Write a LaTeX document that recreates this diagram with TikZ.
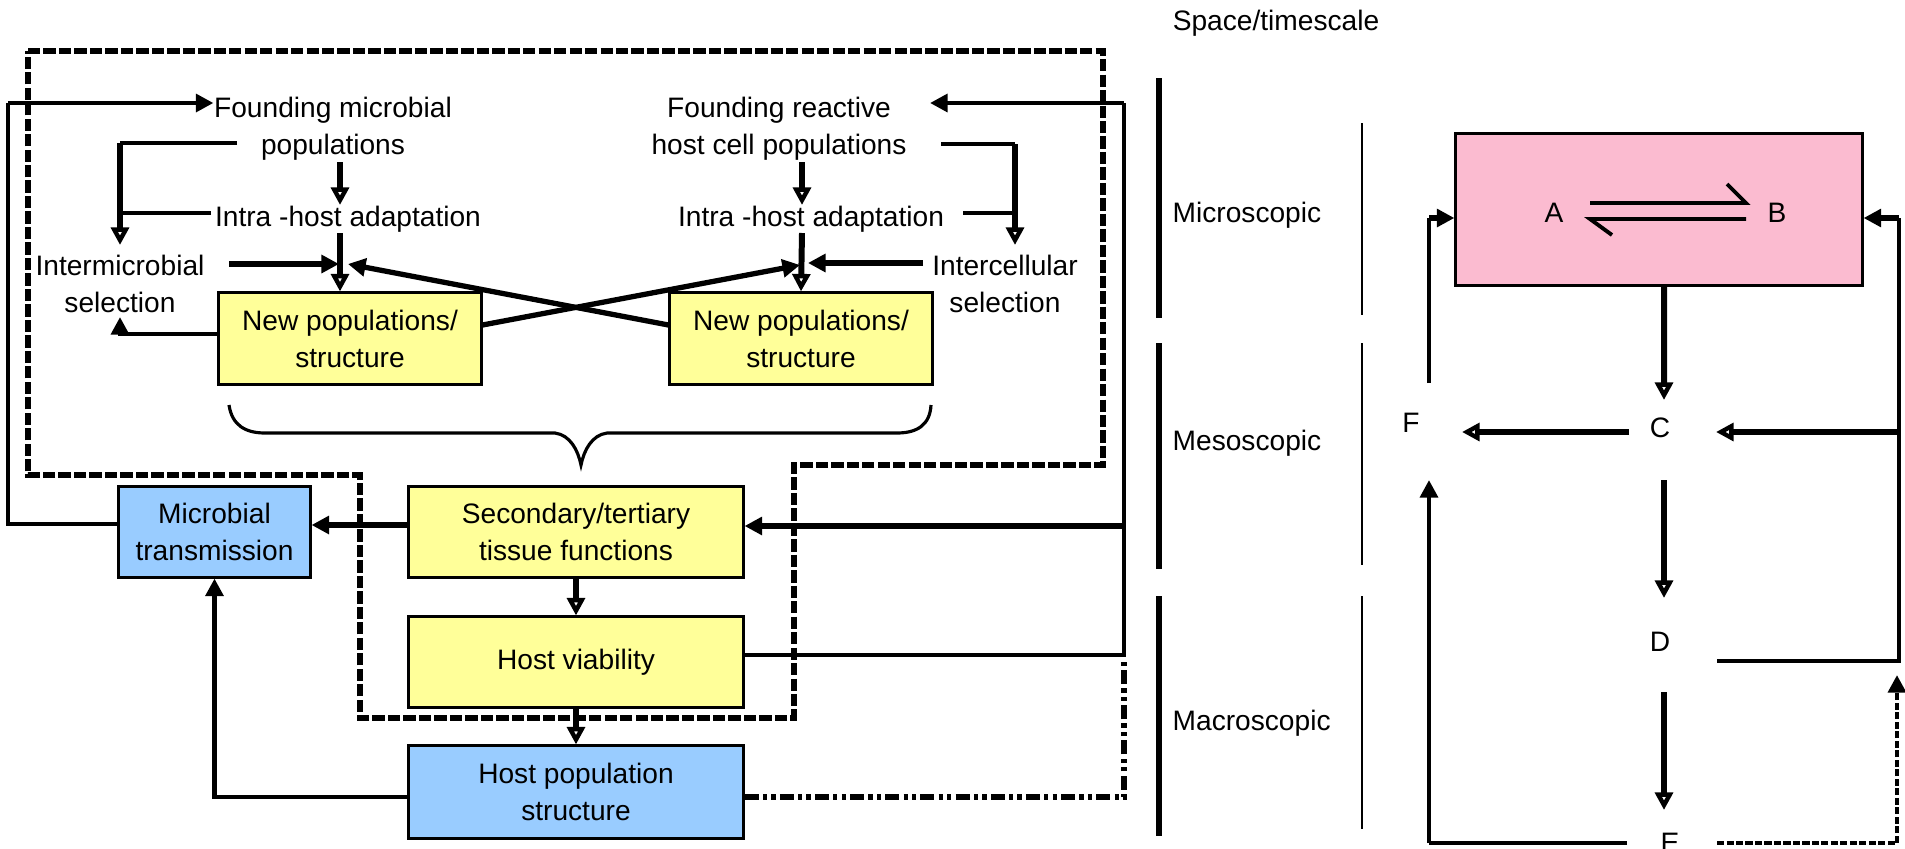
\documentclass[tikz,border=0pt]{standalone}
\usepackage{fontspec}
\setmainfont{Liberation Sans}
\usetikzlibrary{arrows.meta}
\definecolor{boxyellow}{RGB}{255,255,153}
\definecolor{boxblue}{RGB}{153,204,255}
\definecolor{boxpink}{RGB}{251,187,208}
\begin{document}
\begin{tikzpicture}[x=0.01cm,y=-0.01cm,
  every node/.style={font=\fontsize{8}{10.5}\selectfont, inner sep=0pt, align=center},
  ybox/.style={draw, line width=0.85pt, fill=boxyellow},
  bbox/.style={draw, line width=0.85pt, fill=boxblue},
  thinl/.style={line width=0.9pt},
  medl/.style={line width=1.3pt},
  thickl/.style={line width=1.7pt},
  fhead/.style={-{Triangle[length=5pt,width=5pt]}},
  ohead/.style={-{Triangle[open,length=5pt,width=5pt]}},
  outline/.style={line width=1.5pt, dash pattern=on 3.5pt off 0.9pt},
  ddot/.style={line width=1.6pt, dash pattern=on 4pt off 1.2pt on 1.2pt off 1.2pt on 1.2pt off 1.2pt},
  finedash/.style={line width=1.4pt, dash pattern=on 2pt off 0.7pt},
]
\useasboundingbox (0,0) rectangle (1905,848);

% dashed outline
\draw[outline] (28,51) -- (1103,51) -- (1103,465) -- (794,465) -- (794,718) -- (360,718) -- (360,475) -- (28,475) -- cycle;

% text nodes
\node (fmp) at (333,128.5) {Founding microbial\\populations};
\node (frh) at (779,129) {Founding reactive\\host cell populations};
\node (iha1) at (348,219) {Intra -host adaptation};
\node (iha2) at (811,219) {Intra -host adaptation};
\node (ims) at (120,284) {Intermicrobial\\selection};
\node (ics) at (1005,284) {Intercellular\\selection};

% boxes
\node[ybox, minimum width=2.62cm, minimum height=0.91cm] (np1) at (350,338.5) {New populations/\\structure};
\node[ybox, minimum width=2.62cm, minimum height=0.91cm] (np2) at (801,338.5) {New populations/\\structure};
\node[bbox, minimum width=1.91cm, minimum height=0.90cm] (mt) at (214.5,532) {Microbial\\transmission};
\node[ybox, minimum width=3.34cm, minimum height=0.90cm] (stf) at (576,532) {Secondary/tertiary\\tissue functions};
\node[ybox, minimum width=3.34cm, minimum height=0.90cm] (hv) at (576,662) {Host viability};
\node[bbox, minimum width=3.34cm, minimum height=0.92cm] (hps) at (576,792) {Host population\\structure};

% brace
\draw[thinl] (229,405) .. controls (232,425) and (245,433) .. (265,433) -- (555,433)
  .. controls (570,435) and (578,450) .. (581,465)
  .. controls (584,450) and (592,435) .. (607,433) -- (897,433)
  .. controls (917,433) and (930,425) .. (931,405);

% inner connectors
\draw[thickl, ohead] (340,162) -- (340,205);
\draw[thickl, ohead] (340,233) -- ([xshift=-0.1cm]np1.north);
\draw[thickl, ohead] (802,162) -- (802,205);
\draw[thickl, ohead] (802,233) -- (np2.north);
\draw[thickl, fhead] (229,264) -- (339,264);
\draw[thickl, fhead] (923,263) -- (808,263);
\draw[line width=1.5pt, fhead] ([yshift=0.135cm]np1.east) -- (800,265);
\draw[line width=1.5pt, fhead] ([yshift=0.135cm]np2.west) -- (348,264);
\draw[thinl] (237,143) -- (120,143);
\draw[thickl, ohead] (120,143) -- (120,245);
\draw[thinl] (211,213) -- (120,213);
\draw[medl, fhead] ([yshift=0.045cm]np1.west) -| (120,317);
\draw[thinl] (941,144) -- (1015,144);
\draw[thickl, ohead] (1015,144) -- (1015,245);
\draw[thinl] (963,213) -- (1015,213);

% outer loops
\coordinate (lc) at (8,103);
\draw[thinl] ([yshift=0.08cm]mt.west) -| (lc);
\draw[medl, fhead] (lc) -- (fmp.west |- lc);
\coordinate (rc) at (1124,103);
\coordinate (rtip) at (930,103);
\draw[thinl] ([yshift=0.07cm]hv.east) -| (rc);
\draw[medl, fhead] (rc) -- (rtip);
\coordinate (rs) at (1124,526);
\draw[thickl, fhead] (rs) -- ([yshift=0.06cm]stf.east);
\draw[ddot] ([yshift=-0.05cm]hps.east) -| (1124,660);
\draw[thickl, fhead] ([yshift=0.07cm]stf.west) -- ([yshift=0.07cm]mt.east);
\draw[thickl, ohead] (stf.south) -- (hv.north);
\draw[thickl, ohead] (hv.south) -- (hps.north);
\draw[medl, fhead] ([yshift=-0.05cm]hps.west) -| (mt.south);

% scale column
\node (st) at (1276,23) {Space/timescale};
\node[anchor=west] (mic) at (1172,215) {Microscopic};
\node[anchor=west] (mes) at (1172,443) {Mesoscopic};
\node[anchor=west] (mac) at (1172,723) {Macroscopic};
\draw[line width=1.7pt] (1159,78) -- (1159,318);
\draw[line width=1.7pt] (1159,343) -- (1159,569);
\draw[line width=1.7pt] (1159,596) -- (1159,836);
\draw[line width=0.7pt] (1362,123) -- (1362,315);
\draw[line width=0.7pt] (1362,343) -- (1362,565);
\draw[line width=0.7pt] (1362,596) -- (1362,829);

% right diagram
\node[draw, line width=0.85pt, fill=boxpink, minimum width=4.06cm, minimum height=1.51cm] (ab) at (1659,209.5) {};
\node (A) at (1554,213) {A};
\node (B) at (1777,213) {B};
\node (F) at (1411,423) {F};
\node (C) at (1660,428) {C};
\node (D) at (1660,642) {D};
\node (E) at (1670,843) {E};
\draw[line width=1.1pt] (1590,203) -- (1746,203) -- (1727,184);
\draw[line width=1.1pt] (1746,219) -- (1590,219) -- (1612,235);

\draw[thickl, ohead] ([xshift=0.05cm]ab.south) -- (1664,400);
\draw[thickl, ohead] (1664,480) -- (1664,598);
\draw[thickl, ohead] (1664,692) -- (1664,810);
\draw[line width=1.5pt, ohead] (1629,432) -- (1462,432);
\draw[line width=1.5pt, ohead] (1899,432) -- (1716,432);
\draw[thinl] (1717,661) -- (1899,661) -- (1899,218);
\draw[thickl, fhead] (1899,218) -- (ab.east |- 0,218);
\draw[thinl] (1429,383) -- (1429,218);
\draw[thickl, fhead] (1429,218) -- (ab.west |- 0,218);
\draw[medl] (1627,843) -- (1429,843);
\draw[medl, fhead] (1429,843) -- (1429,480);
\draw[finedash, fhead] (1717,843) -- (1897,843) -- (1897,675);
\end{tikzpicture}
\end{document}
